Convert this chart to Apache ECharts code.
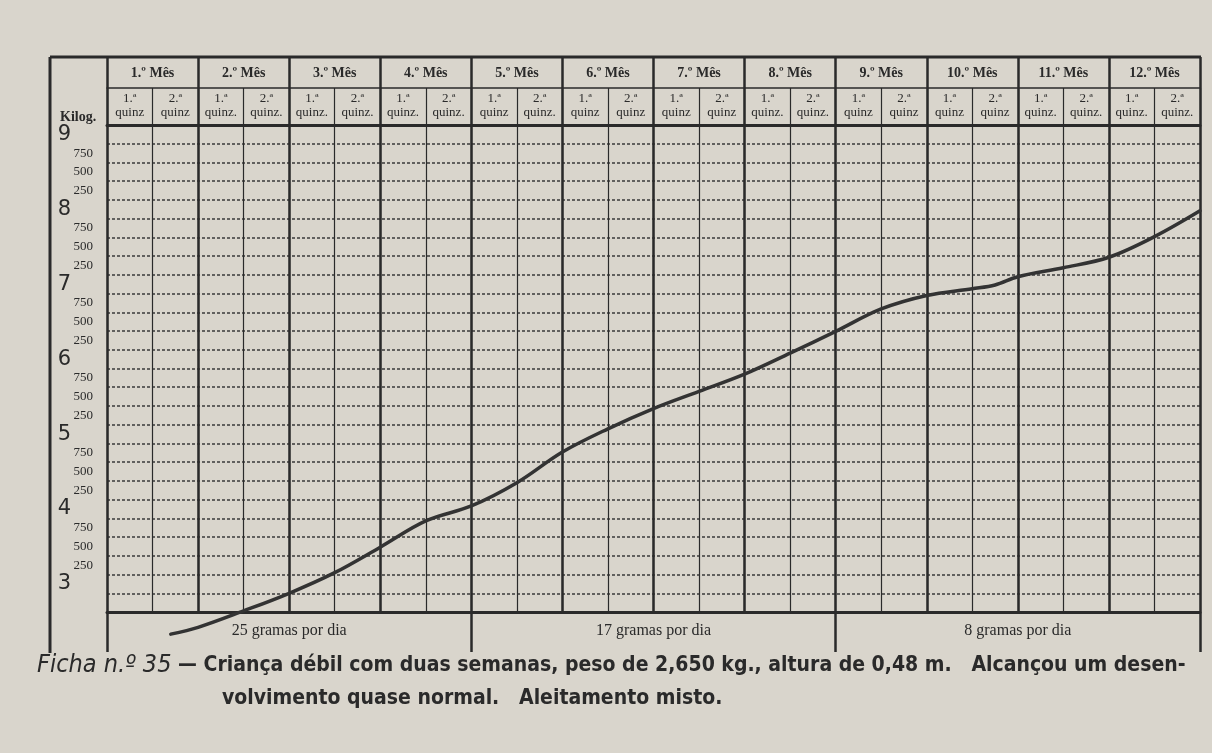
<!DOCTYPE html>
<html>
<head>
<meta charset="utf-8">
<script src="https://cdn.jsdelivr.net/npm/echarts@6/dist/echarts.min.js"></script>
<style>
  html, body { margin: 0; padding: 0; background: #d8d4cb; }
  #main { width: 1212px; height: 753px; }
</style>
</head>
<body>
<div id="main"></div>
<script>
// cabeçalho: meses e quinzenas
var months = ['1.º Mês', '2.º Mês', '3.º Mês', '4.º Mês', '5.º Mês', '6.º Mês',
    '7.º Mês', '8.º Mês', '9.º Mês', '10.º Mês', '11.º Mês', '12.º Mês'];
var quinzenas = [
    '1.ª\nquinz', '2.ª\nquinz', '1.ª\nquinz.', '2.ª\nquinz.', '1.ª\nquinz.', '2.ª\nquinz.',
    '1.ª\nquinz.', '2.ª\nquinz.', '1.ª\nquinz', '2.ª\nquinz.', '1.ª\nquinz', '2.ª\nquinz',
    '1.ª\nquinz', '2.ª\nquinz', '1.ª\nquinz.', '2.ª\nquinz.', '1.ª\nquinz', '2.ª\nquinz',
    '1.ª\nquinz', '2.ª\nquinz', '1.ª\nquinz.', '2.ª\nquinz.', '1.ª\nquinz.', '2.ª\nquinz.'];
var bandLabels = ['25 gramas por dia', '17 gramas por dia', '8 gramas por dia'];
// linhas do eixo de peso, de cima para baixo (a última linha fica sem rótulo)
var kgLabels = ['9', '750', '500', '250', '8', '750', '500', '250', '7', '750', '500', '250',
    '6', '750', '500', '250', '5', '750', '500', '250', '4', '750', '500', '250', '3', ''];

// curva de peso: idade em quinzenas, peso em kg
var ageQuinz = [1.4, 2, 3, 4, 5, 6, 7, 8, 9, 10, 11, 12, 13, 14, 15, 16, 17, 18, 19, 19.5, 20, 21, 22, 23, 24];
var weightKg = [2.33, 2.42, 2.64, 2.875, 3.15, 3.49, 3.84, 4.04, 4.35, 4.76, 5.07, 5.34, 5.57, 5.80,
    6.08, 6.37, 6.67, 6.85, 6.94, 6.99, 7.10, 7.22, 7.36, 7.635, 7.98];

var ink = '#2a2a2a';
var serif = '"Liberation Serif", "DejaVu Serif", serif';
var sans = '"DejaVu Sans", sans-serif';
var narrow = '"DejaVu Sans Condensed", "DejaVu Sans", sans-serif';

var myChart = echarts.init(document.getElementById('main'));

var option = {
    animation: false,
    backgroundColor: '#d9d5cc',
    grid: { left: 107, right: 12, top: 125, bottom: 141 },
    xAxis: [{
        // quinzenas
        type: 'category',
        data: quinzenas,
        position: 'top',
        offset: 37,
        boundaryGap: true,
        axisLine: { show: true, lineStyle: { color: ink, width: 1.5 } },
        axisTick: { show: true, inside: true, length: 37, lineStyle: { color: ink, width: 1.2 } },
        axisLabel: { inside: true, margin: 4, interval: 0, fontSize: 13, lineHeight: 14,
            fontFamily: serif, color: ink },
        splitLine: { show: true, interval: 0, lineStyle: { color: ink, width: 1.2 } }
    }, {
        // meses
        type: 'category',
        data: months,
        position: 'top',
        offset: 0,
        boundaryGap: true,
        axisLine: { show: true, lineStyle: { color: ink, width: 3 } },
        axisTick: { show: true, length: 68, lineStyle: { color: ink, width: 2.5 } },
        axisLabel: { margin: 45, interval: 0, fontSize: 14, fontWeight: 'bold',
            fontFamily: serif, color: ink },
        splitLine: { show: true, interval: 0, lineStyle: { color: ink, width: 2.5 } }
    }, {
        // faixas de ganho diário
        type: 'category',
        data: bandLabels,
        position: 'bottom',
        boundaryGap: true,
        axisLine: { show: true, lineStyle: { color: ink, width: 3 } },
        axisTick: { show: true, length: 40, lineStyle: { color: ink, width: 2.5 } },
        axisLabel: { margin: 11, fontSize: 16, fontFamily: serif, color: ink },
        splitLine: { show: false }
    }, {
        type: 'value',
        min: 0,
        max: 24,
        show: false
    }],
    yAxis: [{
        type: 'category',
        data: kgLabels,
        inverse: true,
        boundaryGap: true,
        axisLine: { show: false },
        axisTick: { show: false },
        axisLabel: {
            interval: 0,
            margin: 14,
            formatter: function(v) {
                if (v === '') return '';
                return v.length === 1 ? '{big|' + v + '}' : '{small|' + v + '}';
            },
            rich: {
                big: { fontSize: 21, fontFamily: sans, color: ink, padding: [0, 22, 0, 0] },
                small: { fontSize: 13, fontFamily: serif, color: ink }
            }
        },
        splitLine: { show: true, interval: 0,
            lineStyle: { color: '#3a3a3a', width: 1.5, type: [3, 2] } }
    }, {
        type: 'value',
        min: 2.625,
        max: 9.125,
        show: false
    }],
    graphic: [{
        type: 'line',
        shape: { x1: 50, y1: 57, x2: 50, y2: 653 },
        style: { stroke: ink, lineWidth: 3 }
    }, {
        type: 'line',
        shape: { x1: 50, y1: 57, x2: 1201, y2: 57 },
        style: { stroke: ink, lineWidth: 3 }
    }, {
        type: 'text',
        left: 60,
        top: 110,
        style: { text: 'Kilog.', fontSize: 14, fontWeight: 'bold', fontFamily: serif, fill: ink }
    }, {
        type: 'text',
        left: 37,
        top: 653,
        style: {
            text: '{it|Ficha n.º 35}{b| — Criança débil com duas semanas, peso de 2,650 kg., altura de 0,48 m.   Alcançou um desen-}',
            rich: {
                it: { fontSize: 25, fontStyle: 'italic', fontFamily: narrow, fill: ink },
                b: { fontSize: 21, fontWeight: 'bold', fontFamily: narrow, fill: ink }
            }
        }
    }, {
        type: 'text',
        left: 222,
        top: 688,
        style: {
            text: 'volvimento quase normal.   Aleitamento misto.',
            fontSize: 21, fontWeight: 'bold', fontFamily: narrow, fill: ink
        }
    }],
    series: [{
        type: 'line',
        xAxisIndex: 3,
        yAxisIndex: 1,
        data: ageQuinz.map(function(a, i) { return [a, weightKg[i]]; }),
        smooth: 0.35,
        showSymbol: false,
        clip: false,
        z: 10,
        lineStyle: { color: '#333', width: 3.5, cap: 'round' }
    }]
};

myChart.setOption(option);
</script>
</body>
</html>
